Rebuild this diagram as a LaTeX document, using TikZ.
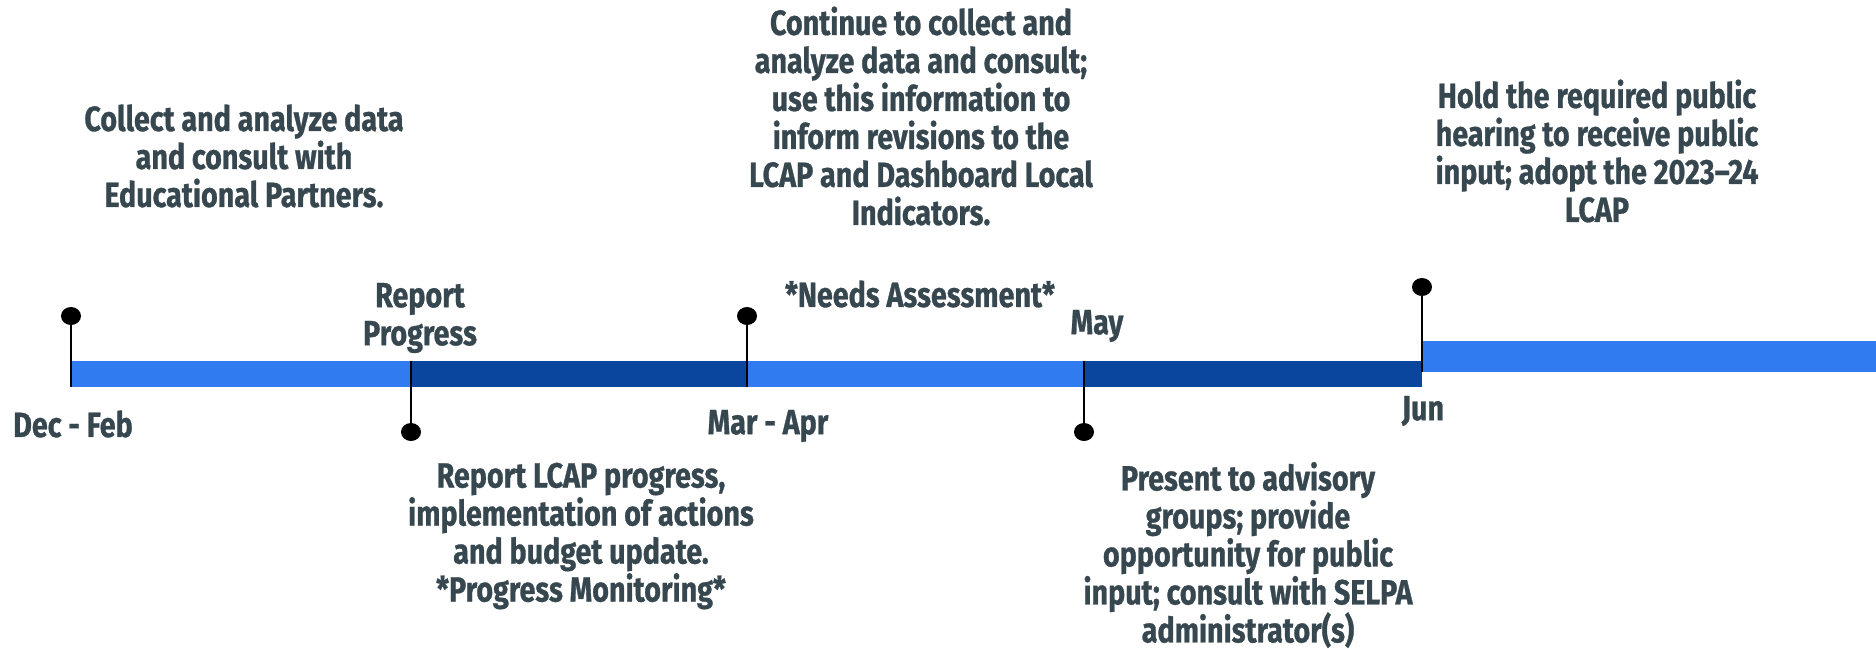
\documentclass[tikz,border=0pt]{standalone}
\usepackage{fontspec}
\setmainfont{Fira Sans}[FakeStretch=0.82,BoldFeatures={FakeBold=0.8}]
\usetikzlibrary{positioning,shapes.geometric}
\definecolor{barlight}{RGB}{49,123,240}
\definecolor{bardark}{RGB}{10,70,158}
\definecolor{ink}{RGB}{55,71,79}
\tikzset{
  pindot/.style={ellipse,fill=black,inner sep=0pt,minimum width=20pt,minimum height=18pt},
  pinline/.style={line width=2.2pt,black},
  tltext/.style={font=\bfseries\fontsize{35}{38}\selectfont,text=ink,align=center,inner sep=0pt},
}

\begin{document}
\begin{tikzpicture}[x=1pt,y=-1pt]
\useasboundingbox (0,0) rectangle (1876,648);
% timeline bars
\fill[barlight] (71,361) rectangle (411,387);
\fill[bardark] (411,361) rectangle (747,387);
\fill[barlight] (747,361) rectangle (1084,387);
\fill[bardark] (1084,361) rectangle (1422,387);
\fill[barlight] (1422,341) rectangle (1876,372);
% pins above and below the bar
\node[pindot] (decdot) at (71,316) {};
\node[pindot] (repdot) at (411,432) {};
\node[pindot] (mardot) at (747,316) {};
\node[pindot] (maydot) at (1084,432) {};
\node[pindot] (jundot) at (1422,287) {};
\coordinate (decend) at (71,387);
\coordinate (repend) at (411,361);
\coordinate (marend) at (747,387);
\coordinate (mayend) at (1084,361);
\coordinate (junend) at (1422,372);
\draw[pinline] (decdot.center)--(decend);
\draw[pinline] (repdot.center)--(repend);
\draw[pinline] (mardot.center)--(marend);
\draw[pinline] (maydot.center)--(mayend);
\draw[pinline] (jundot.center)--(junend);
% month labels
\node[tltext] (decfeb) at (73,424) {Dec - Feb};
\node[tltext] (reppro) at (420,318) {Report\\Progress};
\node[tltext] (marapr) at (768,426) {Mar - Apr};
\node[tltext] (needs) at (920,294) {*Needs Assessment*};
\node[tltext] (may) at (1097,326) {May};
\node[tltext] (jun) at (1423,411) {Jun};
% descriptions
\node[tltext] (collect) at (244,156) {Collect and analyze data\\and consult with\\Educational Partners.};
\node[tltext] (continue) at (921,116) {Continue to collect and\\analyze data and consult;\\use this information to\\inform revisions to the\\LCAP and Dashboard Local\\Indicators.};
\node[tltext] (hearing) at (1597,151) {Hold the required public\\hearing to receive public\\input; adopt the 2023–24\\LCAP};
\node[tltext] (reportlcap) at (581,536) {Report LCAP progress,\\implementation of actions\\and budget update.\\*Progress Monitoring*};
\node[tltext] (present) at (1248,555) {Present to advisory\\groups; provide\\opportunity for public\\input; consult with SELPA\\administrator(s)};
\end{tikzpicture}
\end{document}
